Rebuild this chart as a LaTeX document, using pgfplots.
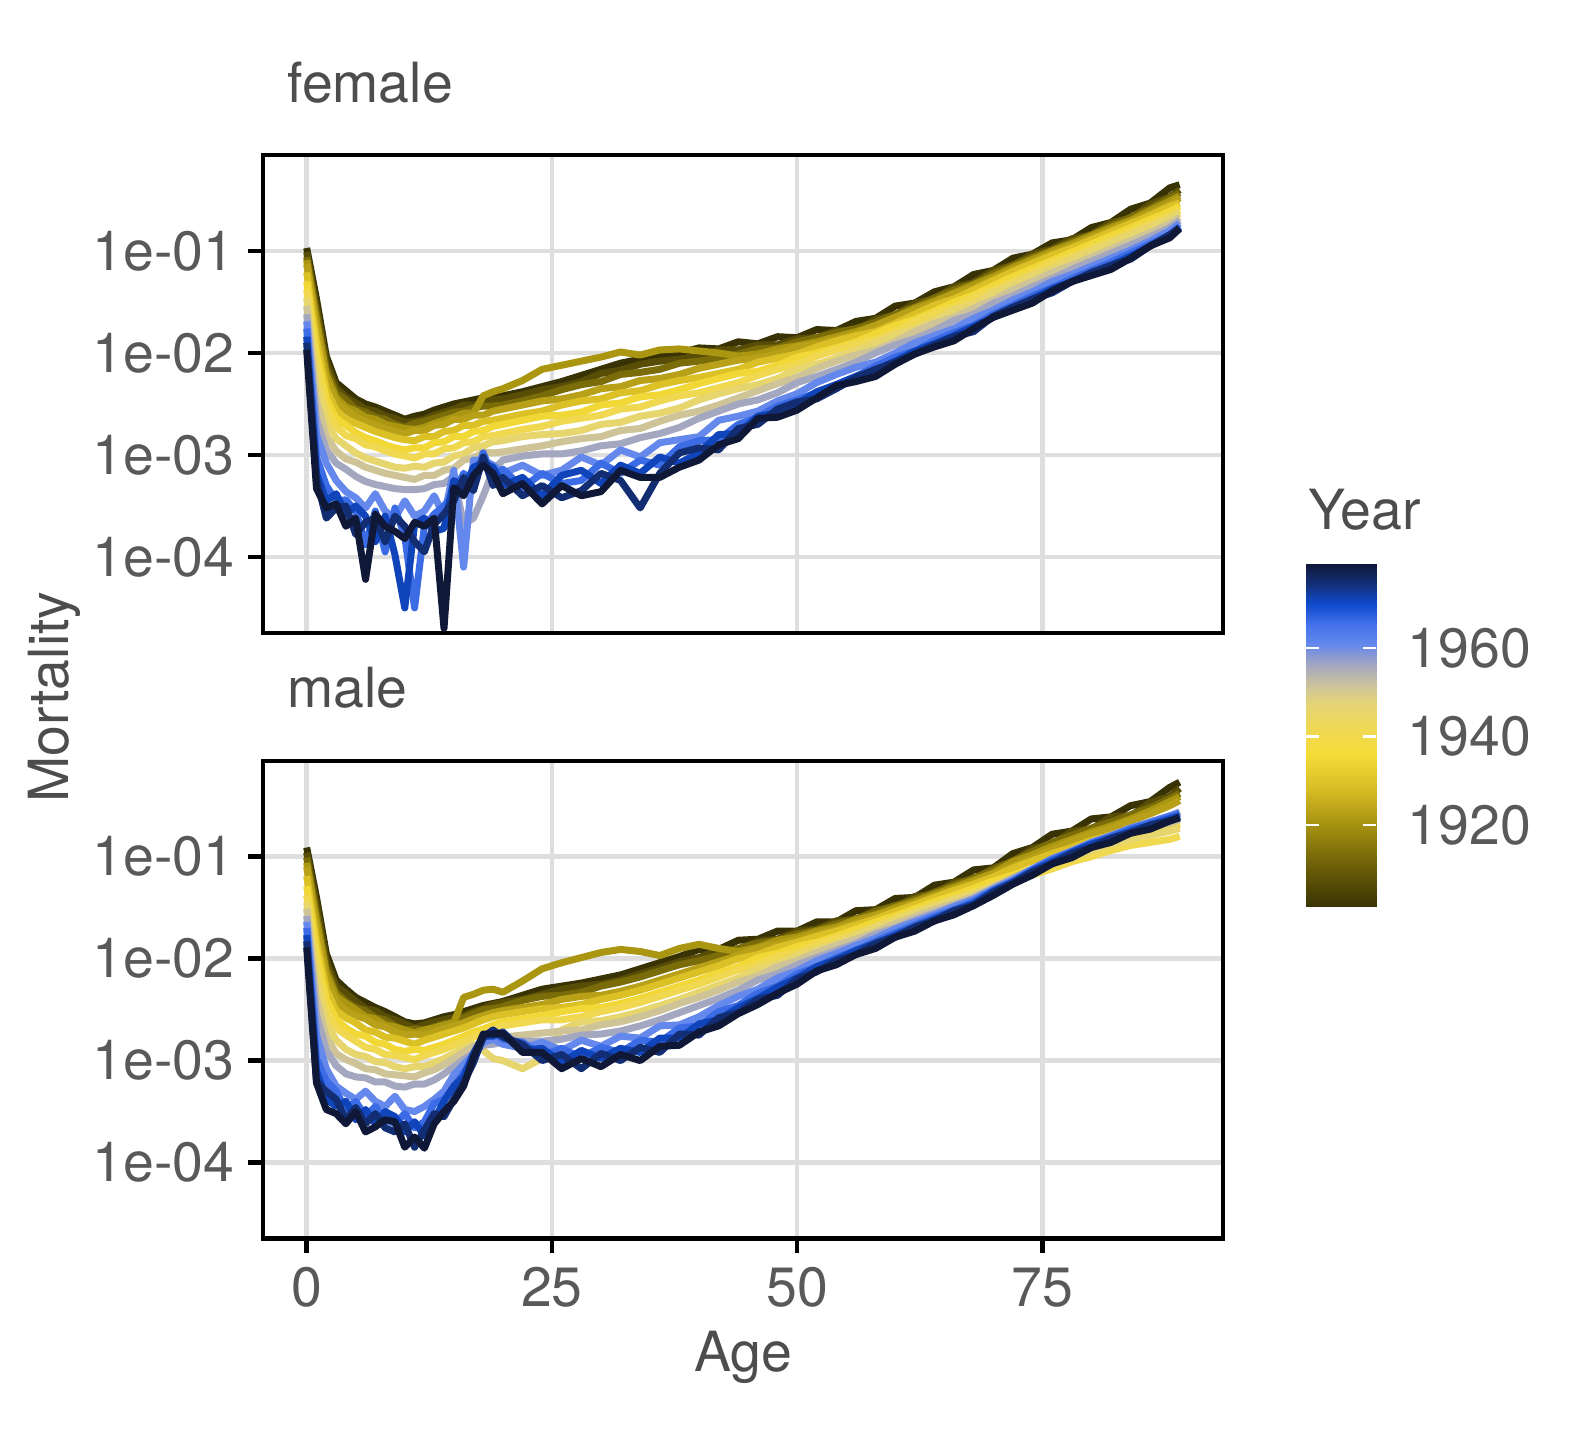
\documentclass[border=0pt]{standalone}
\usepackage{fontspec}
\setmainfont{TeX Gyre Heros}
\usepackage{pgfplots}
\usepackage{pgfplotstable}
\pgfplotsset{compat=1.18}

\definecolor{txt}{HTML}{4D4D4D}
\definecolor{tickc}{HTML}{595959}
\definecolor{gridc}{HTML}{DEDEDE}
\definecolor{c01}{RGB}{56,50,4}
\definecolor{c02}{RGB}{88,77,7}
\definecolor{c03}{RGB}{123,108,10}
\definecolor{c04}{RGB}{170,150,16}
\definecolor{c05}{RGB}{184,161,24}
\definecolor{c06}{RGB}{219,192,38}
\definecolor{c07}{RGB}{241,216,54}
\definecolor{c08}{RGB}{240,217,80}
\definecolor{c09}{RGB}{231,213,110}
\definecolor{c10}{RGB}{206,196,151}
\definecolor{c11}{RGB}{164,167,192}
\definecolor{c12}{RGB}{100,136,236}
\definecolor{c13}{RGB}{59,108,230}
\definecolor{c14}{RGB}{16,68,186}
\definecolor{c15}{RGB}{19,45,115}
\definecolor{c16}{RGB}{16,24,56}

\newcommand{\lab}{\fontsize{13.9}{16}\selectfont}

\pgfplotsset{colormap={yearmap}{[1pt] rgb255(0pt)=(56,50,4); rgb255(86pt)=(105,92,8); rgb255(186pt)=(165,145,16); rgb255(266pt)=(215,188,36); rgb255(346pt)=(245,220,56); rgb255(416pt)=(238,216,90); rgb255(461pt)=(228,212,120); rgb255(506pt)=(200,192,160); rgb255(551pt)=(160,164,196); rgb255(596pt)=(100,136,236); rgb255(636pt)=(70,116,236); rgb255(686pt)=(14,74,204); rgb255(726pt)=(20,50,130); rgb255(776pt)=(16,24,56)}}

% values: log10 of mortality (y axis drawn on a log10 scale); columns = years
% 1901 1907 1913 1918 1923 1929 1935 1941 1946 1951 1956 1961 1966 1971 1975 1979
\pgfplotstableread{
age c1 c2 c3 c4 c5 c6 c7 c8 c9 c10 c11 c12 c13 c14 c15 c16
0 -0.97 -1.01 -1.06 -1.09 -1.13 -1.21 -1.30 -1.38 -1.46 -1.54 -1.62 -1.69 -1.76 -1.84 -1.90 -1.97
1 -1.47 -1.55 -1.62 -1.69 -1.75 -1.87 -2.00 -2.12 -2.30 -2.47 -2.65 -2.80 -3.02 -3.18 -3.24 -3.33
2 -2.03 -2.09 -2.16 -2.21 -2.26 -2.36 -2.45 -2.55 -2.68 -2.82 -2.95 -3.08 -3.30 -3.45 -3.62 -3.52
3 -2.29 -2.34 -2.39 -2.44 -2.48 -2.56 -2.64 -2.72 -2.84 -2.96 -3.08 -3.25 -3.45 -3.38 -3.52 -3.48
4 -2.37 -2.43 -2.46 -2.53 -2.56 -2.65 -2.71 -2.81 -2.91 -3.04 -3.14 -3.36 -3.44 -3.58 -3.50 -3.70
5 -2.45 -2.49 -2.55 -2.57 -2.63 -2.69 -2.78 -2.84 -2.98 -3.07 -3.21 -3.42 -3.55 -3.50 -3.78 -3.62
6 -2.50 -2.55 -2.58 -2.63 -2.67 -2.73 -2.83 -2.90 -3.03 -3.12 -3.26 -3.52 -3.88 -3.60 -3.66 -4.22
7 -2.53 -2.57 -2.63 -2.65 -2.71 -2.77 -2.86 -2.92 -3.06 -3.15 -3.29 -3.38 -3.55 -3.85 -3.62 -3.58
8 -2.57 -2.62 -2.65 -2.70 -2.74 -2.80 -2.90 -2.96 -3.09 -3.18 -3.31 -3.55 -3.95 -3.60 -3.85 -3.70
9 -2.61 -2.64 -2.70 -2.72 -2.77 -2.83 -2.93 -2.99 -3.12 -3.20 -3.33 -3.62 -3.52 -3.98 -3.60 -3.75
10 -2.65 -2.68 -2.73 -2.74 -2.79 -2.85 -2.95 -3.01 -3.13 -3.22 -3.34 -3.45 -3.80 -4.50 -3.70 -3.82
11 -2.62 -2.67 -2.69 -2.75 -2.76 -2.86 -2.93 -3.03 -3.11 -3.24 -3.34 -3.60 -4.50 -3.68 -3.85 -3.66
12 -2.60 -2.65 -2.67 -2.73 -2.76 -2.82 -2.93 -2.99 -3.12 -3.20 -3.33 -3.55 -3.70 -3.62 -3.95 -3.70
13 -2.56 -2.61 -2.64 -2.69 -2.71 -2.82 -2.88 -2.99 -3.08 -3.20 -3.29 -3.40 -3.58 -3.75 -3.68 -3.62
14 -2.53 -2.58 -2.61 -2.66 -2.70 -2.77 -2.87 -2.94 -3.07 -3.15 -3.28 -3.60 -3.50 -3.72 -3.58 -4.70
15 -2.50 -2.55 -2.58 -2.63 -2.65 -2.76 -2.82 -2.93 -3.01 -3.13 -3.21 -3.15 -3.38 -3.25 -3.45 -3.32
16 -2.48 -2.51 -2.57 -2.59 -2.65 -2.71 -2.82 -2.88 -2.99 -3.05 -3.68 -4.10 -3.18 -3.35 -3.22 -3.40
17 -2.46 -2.51 -2.54 -2.59 -2.61 -2.71 -2.77 -2.87 -2.93 -3.03 -3.62 -3.05 -3.28 -3.12 -3.35 -3.20
18 -2.44 -2.49 -2.52 -2.42 -2.61 -2.67 -2.76 -2.82 -2.91 -2.97 -3.40 -3.05 -2.98 -3.08 -3.02 -3.10
19 -2.43 -2.46 -2.52 -2.38 -2.57 -2.66 -2.72 -2.81 -2.87 -2.98 -3.15 -3.10 -3.22 -3.12 -3.30 -3.18
20 -2.42 -2.45 -2.51 -2.35 -2.55 -2.64 -2.70 -2.79 -2.86 -2.97 -3.05 -3.18 -3.14 -3.30 -3.22 -3.38
22 -2.38 -2.41 -2.47 -2.27 -2.51 -2.60 -2.66 -2.75 -2.82 -2.94 -3.01 -3.10 -3.32 -3.22 -3.40 -3.28
24 -2.33 -2.36 -2.42 -2.16 -2.47 -2.57 -2.62 -2.72 -2.80 -2.91 -2.99 -3.20 -3.18 -3.40 -3.30 -3.48
26 -2.28 -2.33 -2.36 -2.12 -2.45 -2.51 -2.61 -2.67 -2.79 -2.87 -2.99 -3.15 -3.28 -3.20 -3.42 -3.30
28 -2.22 -2.28 -2.31 -2.08 -2.41 -2.47 -2.58 -2.64 -2.76 -2.84 -2.96 -3.02 -3.25 -3.15 -3.35 -3.40
30 -2.16 -2.20 -2.28 -2.04 -2.35 -2.45 -2.51 -2.61 -2.70 -2.82 -2.91 -3.10 -3.08 -3.28 -3.18 -3.36
32 -2.10 -2.17 -2.21 -1.99 -2.33 -2.39 -2.49 -2.55 -2.68 -2.76 -2.89 -2.95 -3.18 -3.10 -3.25 -3.15
34 -2.06 -2.11 -2.19 -2.02 -2.27 -2.37 -2.43 -2.53 -2.62 -2.74 -2.83 -3.02 -3.05 -3.18 -3.52 -3.22
36 -2.03 -2.08 -2.16 -1.97 -2.25 -2.31 -2.41 -2.47 -2.59 -2.67 -2.79 -2.88 -3.10 -3.02 -3.18 -3.22
38 -2.00 -2.06 -2.10 -1.96 -2.21 -2.27 -2.36 -2.42 -2.54 -2.61 -2.73 -2.85 -2.92 -3.08 -2.98 -3.12
40 -1.95 -2.03 -2.08 -1.98 -2.15 -2.24 -2.30 -2.39 -2.46 -2.57 -2.64 -2.82 -2.86 -2.98 -2.93 -3.05
42 -1.96 -1.97 -2.05 -2.00 -2.11 -2.20 -2.25 -2.34 -2.40 -2.51 -2.57 -2.66 -2.85 -2.80 -2.95 -2.90
44 -1.89 -1.97 -2.01 -2.03 -2.07 -2.16 -2.20 -2.29 -2.35 -2.44 -2.50 -2.62 -2.70 -2.79 -2.74 -2.84
46 -1.91 -1.92 -1.96 -2.01 -2.05 -2.09 -2.18 -2.22 -2.31 -2.37 -2.46 -2.57 -2.63 -2.62 -2.70 -2.64
48 -1.84 -1.92 -1.95 -1.96 -2.01 -2.05 -2.12 -2.16 -2.25 -2.30 -2.39 -2.47 -2.52 -2.59 -2.55 -2.63
50 -1.85 -1.86 -1.89 -1.93 -1.94 -2.01 -2.04 -2.11 -2.16 -2.24 -2.29 -2.40 -2.46 -2.50 -2.48 -2.56
52 -1.77 -1.85 -1.85 -1.89 -1.91 -1.94 -2.00 -2.03 -2.11 -2.15 -2.23 -2.29 -2.39 -2.38 -2.45 -2.44
54 -1.78 -1.78 -1.80 -1.84 -1.86 -1.88 -1.95 -1.97 -2.05 -2.08 -2.16 -2.21 -2.31 -2.31 -2.35 -2.32
56 -1.69 -1.78 -1.76 -1.79 -1.81 -1.83 -1.89 -1.91 -1.98 -2.02 -2.09 -2.14 -2.23 -2.23 -2.24 -2.28
58 -1.66 -1.67 -1.70 -1.73 -1.73 -1.79 -1.81 -1.87 -1.90 -1.97 -2.00 -2.09 -2.13 -2.17 -2.16 -2.23
60 -1.54 -1.63 -1.62 -1.65 -1.65 -1.71 -1.73 -1.79 -1.82 -1.89 -1.92 -2.00 -2.04 -2.08 -2.09 -2.11
62 -1.51 -1.51 -1.55 -1.56 -1.58 -1.62 -1.67 -1.69 -1.76 -1.79 -1.86 -1.90 -1.98 -1.98 -2.01 -2.01
64 -1.40 -1.47 -1.46 -1.49 -1.51 -1.53 -1.59 -1.61 -1.68 -1.71 -1.78 -1.83 -1.88 -1.91 -1.92 -1.94
66 -1.35 -1.35 -1.38 -1.41 -1.42 -1.47 -1.50 -1.55 -1.58 -1.65 -1.68 -1.76 -1.80 -1.83 -1.84 -1.88
68 -1.23 -1.31 -1.32 -1.33 -1.36 -1.38 -1.43 -1.45 -1.52 -1.56 -1.62 -1.66 -1.73 -1.74 -1.79 -1.76
70 -1.19 -1.19 -1.22 -1.25 -1.27 -1.29 -1.34 -1.38 -1.41 -1.48 -1.51 -1.58 -1.62 -1.65 -1.64 -1.65
72 -1.07 -1.14 -1.14 -1.16 -1.18 -1.20 -1.25 -1.29 -1.33 -1.38 -1.44 -1.48 -1.53 -1.56 -1.55 -1.58
74 -1.03 -1.03 -1.06 -1.08 -1.10 -1.12 -1.17 -1.21 -1.24 -1.30 -1.35 -1.40 -1.44 -1.47 -1.47 -1.51
76 -0.92 -0.98 -0.99 -1.00 -1.02 -1.04 -1.09 -1.11 -1.17 -1.21 -1.27 -1.30 -1.36 -1.37 -1.41 -1.39
78 -0.89 -0.88 -0.91 -0.93 -0.95 -0.97 -1.01 -1.05 -1.08 -1.14 -1.18 -1.23 -1.27 -1.30 -1.30 -1.30
80 -0.77 -0.84 -0.84 -0.85 -0.87 -0.89 -0.93 -0.97 -1.00 -1.06 -1.10 -1.15 -1.19 -1.22 -1.21 -1.24
82 -0.72 -0.72 -0.75 -0.77 -0.79 -0.81 -0.85 -0.89 -0.92 -0.98 -1.02 -1.07 -1.11 -1.14 -1.14 -1.18
84 -0.59 -0.68 -0.67 -0.70 -0.71 -0.73 -0.77 -0.81 -0.84 -0.90 -0.94 -0.99 -1.02 -1.05 -1.08 -1.07
86 -0.53 -0.54 -0.58 -0.60 -0.63 -0.65 -0.69 -0.73 -0.76 -0.82 -0.86 -0.90 -0.93 -0.95 -0.95 -0.95
88 -0.38 -0.47 -0.48 -0.51 -0.54 -0.56 -0.61 -0.65 -0.68 -0.73 -0.77 -0.80 -0.84 -0.85 -0.84 -0.87
89 -0.35 -0.40 -0.43 -0.46 -0.48 -0.53 -0.56 -0.60 -0.63 -0.67 -0.70 -0.73 -0.76 -0.77 -0.77 -0.78
}\femtab

\pgfplotstableread{
age c1 c2 c3 c4 c5 c6 c7 c8 c9 c10 c11 c12 c13 c14 c15 c16
0 -0.91 -0.96 -1.01 -1.06 -1.10 -1.19 -1.29 -1.38 -1.45 -1.51 -1.58 -1.64 -1.70 -1.77 -1.83 -1.89
1 -1.40 -1.48 -1.57 -1.63 -1.70 -1.82 -1.93 -2.05 -2.22 -2.39 -2.55 -2.75 -2.98 -3.10 -3.20 -3.22
2 -1.95 -2.02 -2.09 -2.14 -2.20 -2.30 -2.40 -2.50 -2.63 -2.77 -2.90 -3.08 -3.20 -3.38 -3.30 -3.48
3 -2.21 -2.27 -2.33 -2.37 -2.42 -2.51 -2.59 -2.68 -2.80 -2.93 -3.05 -3.25 -3.30 -3.45 -3.38 -3.52
4 -2.30 -2.34 -2.42 -2.44 -2.51 -2.58 -2.68 -2.75 -2.89 -2.99 -3.13 -3.32 -3.48 -3.40 -3.58 -3.62
5 -2.38 -2.42 -2.48 -2.50 -2.56 -2.63 -2.74 -2.81 -2.94 -3.03 -3.16 -3.38 -3.40 -3.58 -3.46 -3.50
6 -2.43 -2.49 -2.51 -2.57 -2.59 -2.70 -2.76 -2.87 -2.96 -3.08 -3.17 -3.30 -3.55 -3.48 -3.62 -3.70
7 -2.48 -2.51 -2.58 -2.59 -2.65 -2.72 -2.82 -2.89 -3.01 -3.09 -3.21 -3.40 -3.45 -3.62 -3.52 -3.65
8 -2.52 -2.57 -2.60 -2.65 -2.67 -2.77 -2.84 -2.94 -3.02 -3.13 -3.21 -3.45 -3.58 -3.50 -3.66 -3.58
9 -2.57 -2.60 -2.66 -2.67 -2.72 -2.78 -2.89 -2.95 -3.06 -3.14 -3.25 -3.35 -3.62 -3.55 -3.70 -3.60
10 -2.62 -2.64 -2.70 -2.70 -2.75 -2.81 -2.91 -2.97 -3.08 -3.15 -3.26 -3.48 -3.52 -3.70 -3.62 -3.85
11 -2.64 -2.68 -2.69 -2.73 -2.74 -2.84 -2.89 -2.99 -3.06 -3.16 -3.23 -3.50 -3.66 -3.60 -3.85 -3.75
12 -2.63 -2.65 -2.70 -2.70 -2.75 -2.80 -2.90 -2.95 -3.06 -3.12 -3.23 -3.45 -3.60 -3.74 -3.68 -3.86
13 -2.60 -2.62 -2.67 -2.68 -2.72 -2.77 -2.87 -2.92 -3.02 -3.09 -3.19 -3.38 -3.42 -3.58 -3.52 -3.62
14 -2.57 -2.60 -2.64 -2.65 -2.69 -2.74 -2.84 -2.89 -2.98 -3.04 -3.13 -3.30 -3.38 -3.40 -3.55 -3.50
15 -2.55 -2.58 -2.62 -2.63 -2.66 -2.71 -2.80 -2.85 -2.93 -2.98 -3.06 -3.14 -3.26 -3.25 -3.38 -3.40
16 -2.52 -2.56 -2.58 -2.38 -2.63 -2.68 -2.76 -2.81 -2.88 -2.92 -2.99 -3.04 -3.12 -3.16 -3.22 -3.25
17 -2.49 -2.52 -2.54 -2.35 -2.59 -2.64 -2.72 -2.77 -2.84 -2.86 -2.93 -2.94 -2.98 -2.93 -3.02 -2.97
18 -2.46 -2.49 -2.50 -2.31 -2.56 -2.60 -2.69 -2.73 -2.90 -2.83 -2.85 -2.82 -2.78 -2.76 -2.77 -2.74
19 -2.44 -2.45 -2.49 -2.30 -2.53 -2.57 -2.65 -2.69 -2.98 -2.78 -2.84 -2.79 -2.72 -2.76 -2.70 -2.74
20 -2.42 -2.43 -2.47 -2.33 -2.51 -2.55 -2.62 -2.66 -3.00 -2.77 -2.82 -2.84 -2.79 -2.72 -2.77 -2.73
22 -2.36 -2.40 -2.41 -2.22 -2.48 -2.52 -2.59 -2.63 -3.08 -2.75 -2.81 -2.88 -2.82 -2.90 -2.84 -2.92
24 -2.30 -2.35 -2.37 -2.10 -2.45 -2.49 -2.56 -2.60 -2.98 -2.73 -2.81 -2.82 -2.95 -2.88 -3.00 -2.92
26 -2.27 -2.30 -2.36 -2.04 -2.40 -2.48 -2.52 -2.60 -2.70 -2.71 -2.79 -2.90 -2.88 -3.02 -2.94 -3.08
28 -2.24 -2.27 -2.33 -1.99 -2.37 -2.45 -2.49 -2.57 -2.62 -2.70 -2.75 -2.80 -2.97 -2.90 -3.08 -2.98
30 -2.20 -2.25 -2.27 -1.94 -2.36 -2.40 -2.48 -2.52 -2.61 -2.65 -2.74 -2.86 -2.87 -2.98 -2.93 -3.06
32 -2.16 -2.21 -2.23 -1.91 -2.32 -2.36 -2.44 -2.48 -2.57 -2.62 -2.71 -2.76 -2.92 -2.88 -3.00 -2.94
34 -2.10 -2.15 -2.18 -1.93 -2.27 -2.31 -2.39 -2.43 -2.52 -2.57 -2.66 -2.78 -2.80 -2.92 -2.87 -3.00
36 -2.04 -2.09 -2.12 -1.97 -2.21 -2.25 -2.33 -2.37 -2.46 -2.51 -2.60 -2.66 -2.82 -2.78 -2.92 -2.86
38 -1.98 -2.03 -2.06 -1.90 -2.15 -2.19 -2.27 -2.31 -2.40 -2.44 -2.53 -2.65 -2.68 -2.78 -2.74 -2.85
40 -1.91 -1.99 -2.02 -1.86 -2.09 -2.13 -2.21 -2.25 -2.33 -2.38 -2.46 -2.57 -2.66 -2.64 -2.75 -2.72
42 -1.91 -1.92 -1.97 -1.90 -2.03 -2.07 -2.14 -2.18 -2.26 -2.31 -2.39 -2.46 -2.52 -2.60 -2.58 -2.66
44 -1.82 -1.91 -1.90 -1.93 -1.97 -2.00 -2.08 -2.11 -2.19 -2.23 -2.31 -2.37 -2.46 -2.48 -2.53 -2.54
46 -1.81 -1.83 -1.85 -1.89 -1.90 -1.96 -1.99 -2.06 -2.10 -2.17 -2.21 -2.30 -2.34 -2.39 -2.40 -2.45
48 -1.73 -1.81 -1.82 -1.82 -1.86 -1.89 -1.95 -1.98 -2.05 -2.08 -2.15 -2.19 -2.27 -2.28 -2.36 -2.34
50 -1.73 -1.73 -1.76 -1.79 -1.81 -1.84 -1.88 -1.94 -1.97 -2.02 -2.06 -2.12 -2.15 -2.19 -2.20 -2.25
52 -1.64 -1.71 -1.72 -1.73 -1.76 -1.78 -1.84 -1.86 -1.91 -1.94 -1.99 -2.02 -2.08 -2.08 -2.13 -2.12
54 -1.64 -1.63 -1.66 -1.69 -1.71 -1.73 -1.78 -1.80 -1.85 -1.87 -1.92 -1.95 -1.99 -2.01 -2.02 -2.06
56 -1.53 -1.62 -1.61 -1.62 -1.65 -1.67 -1.71 -1.75 -1.77 -1.81 -1.85 -1.87 -1.92 -1.92 -1.96 -1.96
58 -1.52 -1.52 -1.54 -1.57 -1.58 -1.61 -1.64 -1.68 -1.69 -1.74 -1.76 -1.80 -1.83 -1.85 -1.85 -1.90
60 -1.41 -1.50 -1.48 -1.50 -1.52 -1.54 -1.58 -1.60 -1.63 -1.66 -1.70 -1.71 -1.75 -1.77 -1.79 -1.79
62 -1.40 -1.39 -1.42 -1.44 -1.46 -1.47 -1.51 -1.54 -1.55 -1.59 -1.62 -1.64 -1.67 -1.69 -1.69 -1.73
64 -1.28 -1.37 -1.35 -1.37 -1.39 -1.40 -1.44 -1.47 -1.49 -1.52 -1.55 -1.57 -1.59 -1.61 -1.63 -1.63
66 -1.25 -1.25 -1.28 -1.30 -1.32 -1.33 -1.38 -1.41 -1.42 -1.46 -1.48 -1.49 -1.52 -1.53 -1.53 -1.57
68 -1.13 -1.23 -1.21 -1.23 -1.25 -1.27 -1.31 -1.35 -1.37 -1.39 -1.41 -1.42 -1.44 -1.46 -1.48 -1.48
70 -1.11 -1.11 -1.13 -1.16 -1.17 -1.20 -1.24 -1.29 -1.28 -1.30 -1.31 -1.32 -1.33 -1.34 -1.35 -1.38
72 -0.97 -1.05 -1.04 -1.05 -1.09 -1.11 -1.18 -1.23 -1.21 -1.22 -1.21 -1.23 -1.24 -1.25 -1.26 -1.27
74 -0.91 -0.92 -0.95 -0.98 -1.01 -1.04 -1.12 -1.18 -1.15 -1.13 -1.12 -1.12 -1.13 -1.14 -1.15 -1.18
76 -0.78 -0.88 -0.86 -0.90 -0.93 -0.97 -1.05 -1.12 -1.07 -1.04 -1.02 -1.02 -1.03 -1.05 -1.07 -1.07
78 -0.75 -0.75 -0.79 -0.83 -0.85 -0.91 -0.98 -1.05 -1.01 -0.97 -0.94 -0.95 -0.95 -0.96 -0.97 -1.01
80 -0.63 -0.73 -0.72 -0.76 -0.78 -0.84 -0.92 -1.00 -0.94 -0.90 -0.86 -0.86 -0.87 -0.88 -0.91 -0.91
82 -0.61 -0.61 -0.66 -0.70 -0.72 -0.79 -0.86 -0.94 -0.88 -0.83 -0.79 -0.80 -0.80 -0.82 -0.82 -0.86
84 -0.50 -0.60 -0.59 -0.63 -0.65 -0.73 -0.80 -0.89 -0.83 -0.77 -0.72 -0.72 -0.73 -0.75 -0.77 -0.77
86 -0.46 -0.47 -0.52 -0.55 -0.58 -0.67 -0.76 -0.86 -0.79 -0.72 -0.66 -0.66 -0.67 -0.69 -0.69 -0.73
88 -0.32 -0.41 -0.43 -0.46 -0.50 -0.61 -0.72 -0.83 -0.75 -0.67 -0.60 -0.60 -0.61 -0.63 -0.65 -0.65
89 -0.27 -0.33 -0.38 -0.41 -0.45 -0.56 -0.68 -0.80 -0.72 -0.64 -0.56 -0.57 -0.58 -0.60 -0.61 -0.62
}\maltab

\pgfplotsset{
 mypanel/.style={
  scale only axis, width=240.05bp, height=119.4bp,
  anchor=south west,
  xmin=-4.45, xmax=93.45,
  ymin=-4.744, ymax=-0.06,
  xtick={0,25,50,75},
  ytick={-4,-3,-2,-1},
  yticklabels={1e-04,1e-03,1e-02,1e-01},
  grid=major,
  major grid style={draw=gridc, line width=1.1bp},
  axis line style={draw=black, line width=1.1bp},
  tick align=outside, tickpos=left,
  major tick length=3.75bp,
  tick style={draw=black, line width=1.1bp},
  yticklabel style={font=\lab, text=tickc, anchor=east, inner sep=0pt, xshift=-3.25bp},
  xticklabel style={font=\lab, text=tickc, anchor=north, inner sep=0pt, yshift=-3.35bp},
  title style={at={(0,1)}, anchor=base west, xshift=5.9bp, yshift=7.3bp, font=\lab, text=txt, inner sep=0pt},
  every axis plot/.append style={line width=1.75bp, line join=round, mark=none},
 }
}

\newcommand{\plotall}[1]{%
 \addplot[c01] table[x=age, y=c1]{#1};
 \addplot[c02] table[x=age, y=c2]{#1};
 \addplot[c03] table[x=age, y=c3]{#1};
 \addplot[c04] table[x=age, y=c4]{#1};
 \addplot[c05] table[x=age, y=c5]{#1};
 \addplot[c06] table[x=age, y=c6]{#1};
 \addplot[c07] table[x=age, y=c7]{#1};
 \addplot[c08] table[x=age, y=c8]{#1};
 \addplot[c09] table[x=age, y=c9]{#1};
 \addplot[c10] table[x=age, y=c10]{#1};
 \addplot[c11] table[x=age, y=c11]{#1};
 \addplot[c12] table[x=age, y=c12]{#1};
 \addplot[c13] table[x=age, y=c13]{#1};
 \addplot[c14] table[x=age, y=c14]{#1};
 \addplot[c15] table[x=age, y=c15]{#1};
 \addplot[c16] table[x=age, y=c16]{#1};
}

\begin{document}
\begin{tikzpicture}
\useasboundingbox (0,0) rectangle (396bp,360bp);

\begin{axis}[mypanel, at={(65.76bp,201.8bp)}, xticklabels={}, xtick style={draw=none}, title={female}]
\plotall{\femtab}
\end{axis}

\begin{axis}[mypanel, at={(65.76bp,50.4bp)}, xticklabels={0,25,50,75}, title={male}]
\plotall{\maltab}
\end{axis}

% colour bar (Year)
\begin{axis}[at={(326.5bp,133.25bp)}, anchor=south west,
  scale only axis, width=17.5bp, height=85.75bp,
  xmin=0, xmax=1, ymin=1901.4, ymax=1979,
  axis line style={draw=none},
  xtick=\empty,
  ytick={1920,1940,1960}, yticklabels={1920,1940,1960},
  yticklabel pos=right,
  tick align=inside, tickpos=both,
  major tick length=3.3bp,
  ytick style={draw=white, line width=0.6bp},
  yticklabel style={font=\lab, text=tickc, anchor=west, inner sep=0pt, xshift=7.7bp},
  colormap name=yearmap,
  point meta min=1901.4, point meta max=1979,
  axis on top]
\addplot[patch, patch type=rectangle, shader=interp, point meta=explicit] coordinates {
 (0,1901.4) [1901.4] (1,1901.4) [1901.4] (1,1910) [1910] (0,1910) [1910]
 (0,1910) [1910] (1,1910) [1910] (1,1920) [1920] (0,1920) [1920]
 (0,1920) [1920] (1,1920) [1920] (1,1928) [1928] (0,1928) [1928]
 (0,1928) [1928] (1,1928) [1928] (1,1936) [1936] (0,1936) [1936]
 (0,1936) [1936] (1,1936) [1936] (1,1943) [1943] (0,1943) [1943]
 (0,1943) [1943] (1,1943) [1943] (1,1947.5) [1947.5] (0,1947.5) [1947.5]
 (0,1947.5) [1947.5] (1,1947.5) [1947.5] (1,1952) [1952] (0,1952) [1952]
 (0,1952) [1952] (1,1952) [1952] (1,1956.5) [1956.5] (0,1956.5) [1956.5]
 (0,1956.5) [1956.5] (1,1956.5) [1956.5] (1,1961) [1961] (0,1961) [1961]
 (0,1961) [1961] (1,1961) [1961] (1,1965) [1965] (0,1965) [1965]
 (0,1965) [1965] (1,1965) [1965] (1,1970) [1970] (0,1970) [1970]
 (0,1970) [1970] (1,1970) [1970] (1,1974) [1974] (0,1974) [1974]
 (0,1974) [1974] (1,1974) [1974] (1,1979) [1979] (0,1979) [1979]
};
\end{axis}

\node[rotate=90, anchor=base, font=\lab, text=txt, inner sep=0pt] at (17.1bp,185.75bp) {Mortality};
\node[anchor=base, font=\lab, text=txt, inner sep=0pt] at (185.79bp,17.1bp) {Age};
\node[anchor=base west, font=\lab, text=txt, inner sep=0pt] at (327bp,227.5bp) {Year};
\end{tikzpicture}
\end{document}
